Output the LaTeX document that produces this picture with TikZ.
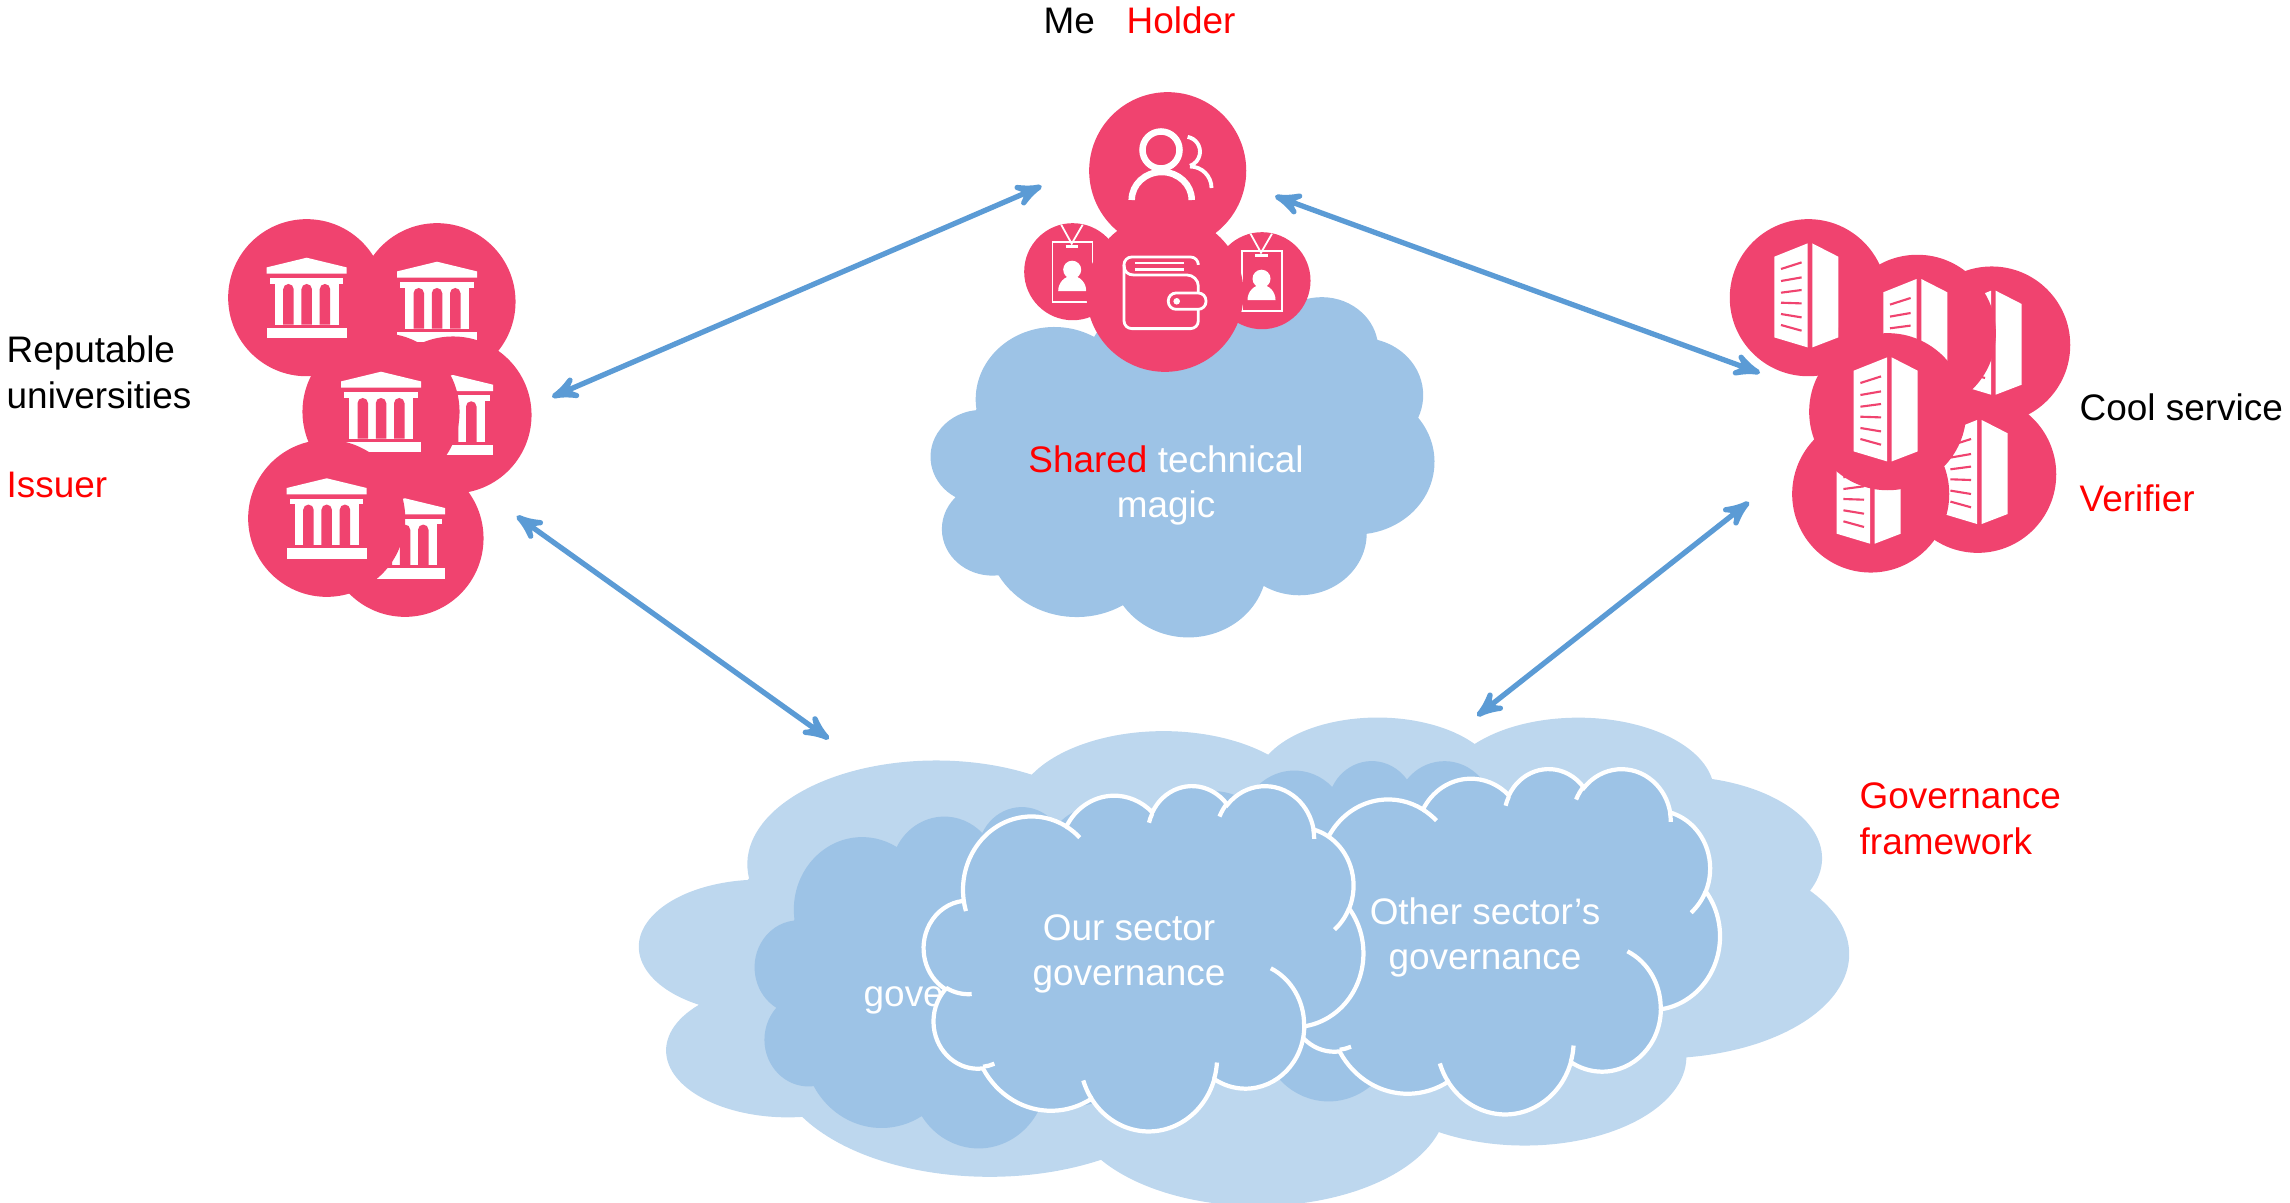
\documentclass[tikz,border=0pt]{standalone}
\usepackage{fontspec}
\setmainfont{Liberation Sans}
\usetikzlibrary{arrows}

\definecolor{discpink}{HTML}{F0436F}
\definecolor{paleblue}{HTML}{BDD7EE}
\definecolor{midblue}{HTML}{9DC3E6}
\definecolor{linkblue}{HTML}{5B9BD5}

\newcommand{\cloudoutline}{(39,143.7)
  arc[start angle=-187.74,end angle=-59.64,x radius=.6753cm,y radius=.919cm]
  arc[start angle=-152.02,end angle=-45.43,x radius=.5333cm,y radius=.7267cm]
  arc[start angle=-153.49,end angle=-37.32,x radius=.4365cm,y radius=.5945cm]
  arc[start angle=-139.71,end angle=-10.21,x radius=.4857cm,y radius=.6595cm]
  arc[start angle=-74.78,end angle=23.21,x radius=.5333cm,y radius=.7273cm]
  arc[start angle=-37.53,end angle=81.89,x radius=.6775cm,y radius=.922cm]
  arc[start angle=.46,end angle=121.98,x radius=.5785cm,y radius=.7867cm]
  arc[start angle=16.84,end angle=146.23,x radius=.6752cm,y radius=.9215cm]
  arc[start angle=58.98,end angle=150.19,x radius=.772cm,y radius=1.0543cm]
  arc[start angle=83.31,end angle=223.08,x radius=.436cm,y radius=.5918cm]
  arc[start angle=120.34,end angle=264.11,x radius=.4345cm,y radius=.5945cm]
  -- cycle}
\newcommand{\cloudseams}{
  (46.93,261.77) arc[start angle=85.54,end angle=120.34,x radius=.4345cm,y radius=.5945cm]
  (69.28,348.99) arc[start angle=68.24,end angle=83.31,x radius=.436cm,y radius=.5918cm]
  (164.8,392.69) arc[start angle=146.23,end angle=162,x radius=.6752cm,y radius=.9215cm]
  (288.27,347.51) arc[start angle=3.8,end angle=16.84,x radius=.6752cm,y radius=.9215cm]
  (341.29,229.54) arc[start angle=-64.3,end angle=.46,x radius=.5785cm,y radius=.7867cm]
  (418.21,154.62) arc[start angle=23.21,end angle=49.3,x radius=.5333cm,y radius=.7273cm]
  (383.19,55.78) arc[start angle=-10.21,end angle=0,x radius=.4857cm,y radius=.6595cm]
  (290.78,39.52) arc[start angle=-156.7,end angle=-139.71,x radius=.4857cm,y radius=.6595cm]
  (221.41,47.2) arc[start angle=-165.2,end angle=-153.49,x radius=.4365cm,y radius=.5945cm]
  (140.05,52.02) arc[start angle=-59.64,end angle=-45.4,x radius=.6753cm,y radius=.919cm]
  (41.27,157.89) arc[start angle=-196.8,end angle=-187.74,x radius=.6753cm,y radius=.919cm]}

\begin{document}
\begin{tikzpicture}[x=0.01cm,y=0.01cm,yscale=-1,>=stealth',
                    font=\fontsize{10.5}{12.8}\selectfont]
  \tikzstyle{disc} = [circle, fill=discpink, inner sep=0pt, minimum size=1.57cm]
  \tikzstyle{smalldisc} = [circle, fill=discpink, inner sep=0pt, minimum size=.97cm]
  \tikzstyle{link} = [<->, linkblue, line width=1.5pt]
  \tikzstyle{label} = [inner sep=0pt, align=left, anchor=base west]
  \tikzstyle{cloudtext} = [inner sep=0pt, align=center, text=white]
  \tikzstyle{rim} = [white, line width=1.2pt]
  \tikzset{
    bank/.pic={
      \tikzset{yscale=-1}
      \fill[white] (-40,-30.3) -- (0,-40) -- (40,-30.3) -- (40,-24) -- (-40,-24) -- cycle;
      \fill[white] (-36.7,-19.7) rectangle (36.7,-14);
      \fill[white] (-32,-19) rectangle (32,27);
      \fill[discpink] (-23.5,27) -- (-23.5,-8.5) arc[start angle=180,end angle=360,radius=.0525cm] -- (-13,27) -- cycle;
      \fill[discpink] (-5.25,27) -- (-5.25,-8.5) arc[start angle=180,end angle=360,radius=.0525cm] -- (5.25,27) -- cycle;
      \fill[discpink] (13,27) -- (13,-8.5) arc[start angle=180,end angle=360,radius=.0525cm] -- (23.5,27) -- cycle;
      \fill[white] (-40,30) rectangle (40,40.3);
    },
    tower/.pic={
      \tikzset{yscale=-1}
      \fill[white] (-34,-41) -- (-.7,-54.3) -- (-.7,49.7) -- (-34,39.7) -- cycle;
      \fill[white] (4,-54.3) -- (30,-41) -- (30,39.7) -- (4,49.7) -- cycle;
      \draw[discpink, line width=.6pt] (-27.3,-28.7) -- (-6.7,-35.3);
      \draw[discpink, line width=.6pt] (-27.3,-16.7) -- (-6.7,-20.3);
      \draw[discpink, line width=.6pt] (-27.3,-5) -- (-6.7,-7.7);
      \draw[discpink, line width=.6pt] (-27.3,5) -- (-6.7,5.7);
      \draw[discpink, line width=.6pt] (-27.3,16.3) -- (-6.7,19.7);
      \draw[discpink, line width=.6pt] (-27.3,27.3) -- (-6.7,33);
    },
    badge/.pic={
      \tikzset{yscale=-1}
      \draw[white, line width=.5pt] (-20.3,-30) rectangle (19.7,30.5);
      \draw[white, line width=.5pt] (-11.5,-47) -- (-1,-28) -- (10,-47);
      \draw[white, line width=.8pt] (-7,-25) -- (5.7,-25);
      \fill[white] (-.5,-2) circle[radius=.09cm];
      \fill[white] (-14.5,19.3) arc[start angle=180,end angle=360,x radius=.14cm,y radius=.15cm] -- cycle;
    }
  }
  \useasboundingbox (0,0) rectangle (2290,1203);

  \begin{scope}[shift={(931,296)},xscale=503/432,yscale=340/432]
    \fill[midblue] \cloudoutline;
  \end{scope}
  \node [cloudtext] (magic) at (1166,485) {{\color{red}Shared} technical\\magic};

  \node [disc] (peoplec) at (1167.7,170.7) {};
  \draw[white, line width=1.85pt] (1161,150) circle[radius=.185cm];
  \draw[white, line width=1.85pt] (1131.7,200) arc[start angle=180,end angle=360,x radius=.3cm,y radius=.28cm];
  \draw[white, line width=1.1pt] (1187.6,136.9) arc[start angle=-80,end angle=70,radius=.15cm];
  \draw[white, line width=1.1pt] (1190,166.5) arc[start angle=-90,end angle=0,radius=.215cm];
  \node [smalldisc] (badgel) at (1072.7,271.7) {};
  \pic at (badgel) {badge};
  \node [smalldisc] (badger) at (1262,280.7) {};
  \pic at (badger) {badge};
  \node [disc] (walletc) at (1165,293.3) {};
  \draw[white, line width=.8pt, rounded corners=2.2pt] (1198.3,263) -- (1198.3,257) -- (1124,257) -- (1124,328.6) -- (1198.3,328.6) -- (1198.3,309.3);
  \draw[white, line width=.8pt] (1124,265) .. controls (1124,272) and (1128,275) .. (1134,275) -- (1187,275) .. controls (1193,275) and (1198.3,280) .. (1198.3,286) -- (1198.3,293);
  \draw[white, line width=.8pt] (1135,263) -- (1184,263);
  \draw[white, line width=.8pt] (1135,269.3) -- (1184,269.3);
  \draw[white, line width=.8pt, rounded corners=2.2pt] (1168.3,293) rectangle (1206,309.3);
  \fill[white] (1176.7,301.3) circle[radius=.033cm];

  \node [disc] (bankb) at (437,301.7) {};
  \pic at (bankb) {bank};
  \node [disc] (bankd) at (453,415) {};
  \pic at (bankd) {bank};
  \node [disc] (bankf) at (405,538.3) {};
  \pic at (bankf) {bank};
  \node [disc] (banka) at (306.7,297.7) {};
  \pic at (banka) {bank};
  \node [disc] (bankc) at (381,411.7) {};
  \pic at (bankc) {bank};
  \node [disc] (banke) at (326.7,518.3) {};
  \pic at (banke) {bank};

  \node [disc] (towerc) at (1991.7,345) {};
  \pic at (towerc) {tower};
  \node [disc] (towere) at (1977.7,474.3) {};
  \pic at (towere) {tower};
  \node [disc] (towerf) at (1870.7,494) {};
  \pic at (towerf) {tower};
  \node [disc] (towera) at (1808.3,297.7) {};
  \pic at (towera) {tower};
  \node [disc] (towerb) at (1917.3,333.3) {};
  \pic at (towerb) {tower};
  \node [disc] (towerd) at (1887.7,411.7) {};
  \pic at (towerd) {tower};

  \begin{scope}[shift={(640,716)},xscale=1208/432,yscale=488/432]
    \fill[paleblue] \cloudoutline;
  \end{scope}
  \begin{scope}[shift={(755,806)},xscale=437/432,yscale=341/432]
    \fill[midblue] \cloudoutline;
  \end{scope}
  \begin{scope}[shift={(1105,760)},xscale=437/432,yscale=340/432]
    \fill[midblue] \cloudoutline;
  \end{scope}
  \node [cloudtext, anchor=base west] (govetext) at (863,1006) {gove};
  \begin{scope}[shift={(1280.6,768)},xscale=439/432,yscale=345/432]
    \fill[midblue] \cloudoutline;
    \draw[rim] \cloudoutline;
    \draw[rim] \cloudseams;
  \end{scope}
  \node [cloudtext] (othersector) at (1485,937) {Other sector’s\\governance};
  \begin{scope}[shift={(924,785)},xscale=439/432,yscale=345/432]
    \fill[midblue] \cloudoutline;
    \draw[rim] \cloudoutline;
    \draw[rim] \cloudseams;
  \end{scope}
  \node [cloudtext] (oursector) at (1129,954) {Our sector\\governance};

  \coordinate (issuertop) at (552,397);
  \coordinate (holderleft) at (1041.7,186);
  \coordinate (holderright) at (1275,196);
  \coordinate (verifiertop) at (1760,373);
  \coordinate (issuerlow) at (516.7,516);
  \coordinate (frameleft) at (829,739);
  \coordinate (verifierlow) at (1749,502);
  \coordinate (frameright) at (1477,716);
  \draw[link] (issuertop) -- (holderleft);
  \draw[link] (holderright) -- (verifiertop);
  \draw[link] (issuerlow) -- (frameleft);
  \draw[link] (verifierlow) -- (frameright);

  \node [label] (metext) at (1043,34) {Me};
  \node [label, text=red] (holdertext) at (1126,34) {Holder};
  \node [label] (unitext) at (6,408) {Reputable\\universities};
  \node [label, text=red] (issuertext) at (6,497) {Issuer};
  \node [label] (cooltext) at (2079,420) {Cool service};
  \node [label, text=red] (verifiertext) at (2079,511) {Verifier};
  \node [label, text=red] (frametext) at (1859,854) {Governance\\framework};
\end{tikzpicture}
\end{document}
